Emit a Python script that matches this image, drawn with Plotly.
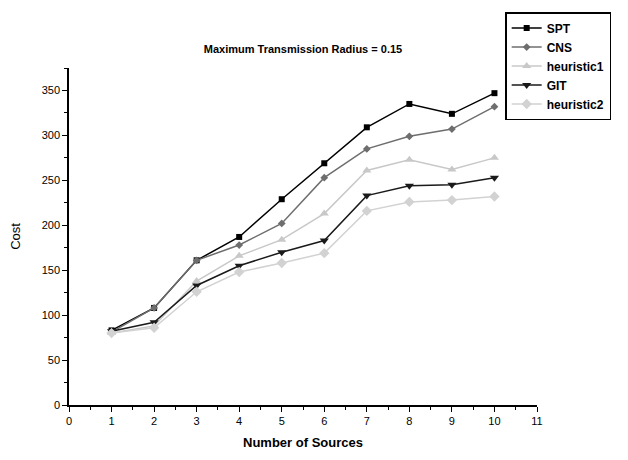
import plotly.graph_objects as go

x = [1, 2, 3, 4, 5, 6, 7, 8, 9, 10]
spt = [83, 108, 161, 187, 229, 269, 309, 335, 324, 347]
cns = [81, 108, 161, 178, 202, 253, 285, 299, 307, 332]
heuristic1 = [80, 88, 138, 166, 184, 213, 261, 273, 262, 275]
git = [82, 92, 133, 155, 170, 183, 233, 244, 245, 253]
heuristic2 = [80, 86, 126, 148, 158, 169, 216, 226, 228, 232]

series = [
    ("SPT", spt, "#000000", "square", 6),
    ("CNS", cns, "#6e6e6e", "diamond", 6),
    ("heuristic1", heuristic1, "#c8c8c8", "triangle-up", 8),
    ("GIT", git, "#1a1a1a", "triangle-down", 8),
    ("heuristic2", heuristic2, "#d2d2d2", "diamond", 8),
]

fig = go.Figure()
for name, ys, col, sym, sz in series:
    fig.add_trace(go.Scatter(
        x=x, y=ys, name="<b>" + name + "</b>", mode="lines+markers",
        line=dict(color=col, width=1.5),
        marker=dict(symbol=sym, size=sz, color=col),
    ))

font = "Liberation Sans, Arial, sans-serif"
fig.update_layout(
    width=628, height=460,
    margin=dict(l=69, r=91, t=67, b=49),
    paper_bgcolor="white", plot_bgcolor="white",
    font=dict(family=font, size=11, color="black"),
    title=dict(text="<b>Maximum Transmission Radius = 0.15</b>",
               x=0.5, xanchor="center", xref="paper",
               y=1 - 49 / 460, yanchor="middle",
               font=dict(size=11)),
    showlegend=True,
    legend=dict(x=0.932, y=1.166, xanchor="left", yanchor="top",
                bordercolor="black", borderwidth=1.5, bgcolor="white",
                font=dict(size=12), tracegroupgap=0, itemwidth=30),
    xaxis=dict(range=[0, 11], dtick=1, tick0=0, showgrid=False, zeroline=False,
               showline=True, linecolor="black", linewidth=1.5,
               ticks="outside", ticklen=5, tickcolor="black",
               minor=dict(dtick=0.5, ticks="outside", ticklen=3, tickcolor="black"),
               title=dict(text="<b>Number of Sources</b>", standoff=12),
               tickfont=dict(size=11)),
    yaxis=dict(range=[0, 375], dtick=50, tick0=0, showgrid=False, zeroline=False,
               showline=True, linecolor="black", linewidth=1.5,
               ticks="outside", ticklen=5, tickcolor="black",
               minor=dict(dtick=25, ticks="outside", ticklen=3, tickcolor="black"),
               title=dict(text="Cost", standoff=18),
               tickfont=dict(size=11)),
)

fig.write_html("out.html")
